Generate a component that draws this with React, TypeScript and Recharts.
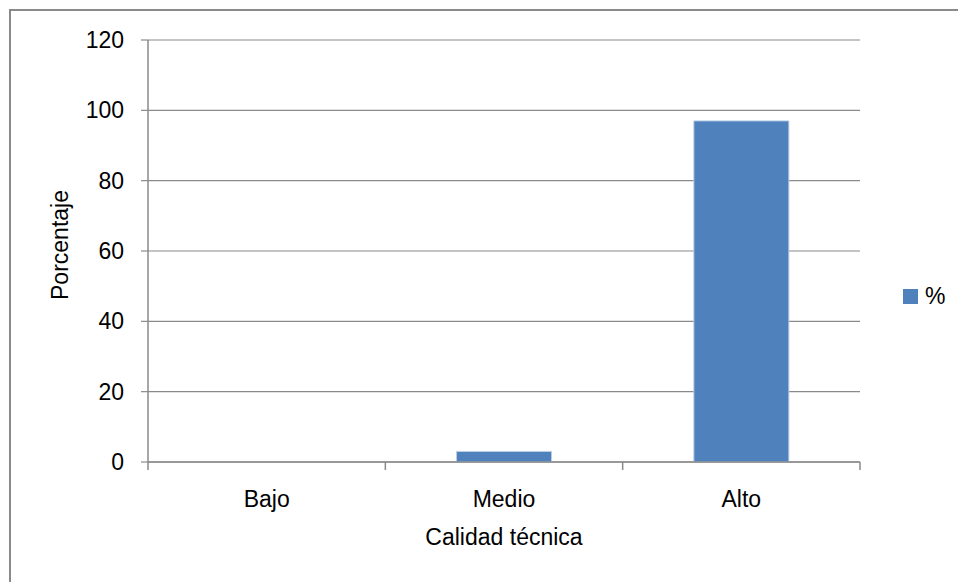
import { BarChart, Bar, XAxis, YAxis, CartesianGrid, Legend } from 'recharts';

const categories = ['Bajo', 'Medio', 'Alto'];
const percentValues = [0, 3, 97];
const yTicks = [0, 20, 40, 60, 80, 100, 120];

const data = categories.map((name, i) => ({ name, pct: percentValues[i] }));

const FONT = '"Liberation Sans", Arial, sans-serif';
const AXIS_GRAY = '#8a8a8a';
const BAR_BLUE = '#4f81bd';
const X_TICK_GAP = 29;
const X_TICK_LEN = 8;

// Category tick: label in the middle, tick marks on the category boundaries
const CategoryTick = ({ x, y, payload, index, visibleTicksCount }: any) => {
  const half = payload?.offset ?? 0;
  const axisY = y - X_TICK_GAP;
  const isLast = index === (visibleTicksCount ?? categories.length) - 1;
  return (
    <g>
      <line x1={x - half} x2={x - half} y1={axisY} y2={axisY + X_TICK_LEN} stroke={AXIS_GRAY} strokeWidth={1.5} />
      {isLast && (
        <line x1={x + half} x2={x + half} y1={axisY} y2={axisY + X_TICK_LEN} stroke={AXIS_GRAY} strokeWidth={1.5} />
      )}
      <text x={x} y={y} dy="0.71em" textAnchor="middle" fill="#000" fontSize={23} fontFamily={FONT}>
        {payload.value}
      </text>
    </g>
  );
};

const LegendBox = ({ payload }: any) => (
  <div style={{ display: 'flex', alignItems: 'center', fontFamily: FONT, fontSize: 23 }}>
    {(payload || []).map((p: any) => (
      <div key={p.value} style={{ display: 'flex', alignItems: 'center' }}>
        <span style={{ width: 15, height: 15, background: BAR_BLUE, display: 'inline-block', marginRight: 7 }} />
        <span style={{ color: '#000' }}>{p.value}</span>
      </div>
    ))}
  </div>
);

const YTitle = () => (
  <text
    x={68}
    y={245}
    transform="rotate(-90 68 245)"
    textAnchor="middle"
    fontFamily={FONT}
    fontSize={23}
    fill="#000"
  >
    Porcentaje
  </text>
);

export default function App() {
  return (
    <div style={{ position: 'absolute', left: 0, top: 0, width: 958, height: 582, background: '#fff' }}>
      <div
        style={{
          position: 'absolute', left: 9, top: 9, right: 0, bottom: 0,
          borderLeft: `2px solid ${AXIS_GRAY}`, borderTop: `2px solid ${AXIS_GRAY}`,
        }}
      />
      <BarChart
        width={958}
        height={582}
        data={data}
        margin={{ top: 40, right: 98, bottom: 20, left: 88 }}
        barCategoryGap="30%"
        style={{ position: 'absolute', left: 0, top: 0 }}
      >
        <CartesianGrid vertical={false} stroke={AXIS_GRAY} strokeWidth={1.2} />
        <XAxis
          dataKey="name"
          axisLine={{ stroke: AXIS_GRAY, strokeWidth: 1.5 }}
          tickLine={false}
          tickSize={0}
          tickMargin={X_TICK_GAP}
          height={100}
          interval={0}
          tick={<CategoryTick />}
          label={{ value: 'Calidad técnica', position: 'insideBottom', offset: 17, fill: '#000', fontSize: 23, fontFamily: FONT }}
        />
        <YAxis
          domain={[0, 120]}
          ticks={yTicks}
          width={60}
          axisLine={{ stroke: AXIS_GRAY, strokeWidth: 1.5 }}
          tickLine={{ stroke: AXIS_GRAY, strokeWidth: 1.2 }}
          tickSize={7}
          tickMargin={17}
          tick={{ fill: '#000', fontSize: 23, fontFamily: FONT }}
          label={<YTitle />}
        />
        <Legend
          layout="vertical"
          align="center"
          verticalAlign="middle"
          content={<LegendBox />}
          wrapperStyle={{ left: 903, top: 283, width: 'auto' }}
        />
        <Bar
          dataKey="pct"
          name="%"
          fill={BAR_BLUE}
          stroke="#b9cde5"
          strokeWidth={1}
          isAnimationActive={false}
        />
      </BarChart>
    </div>
  );
}
